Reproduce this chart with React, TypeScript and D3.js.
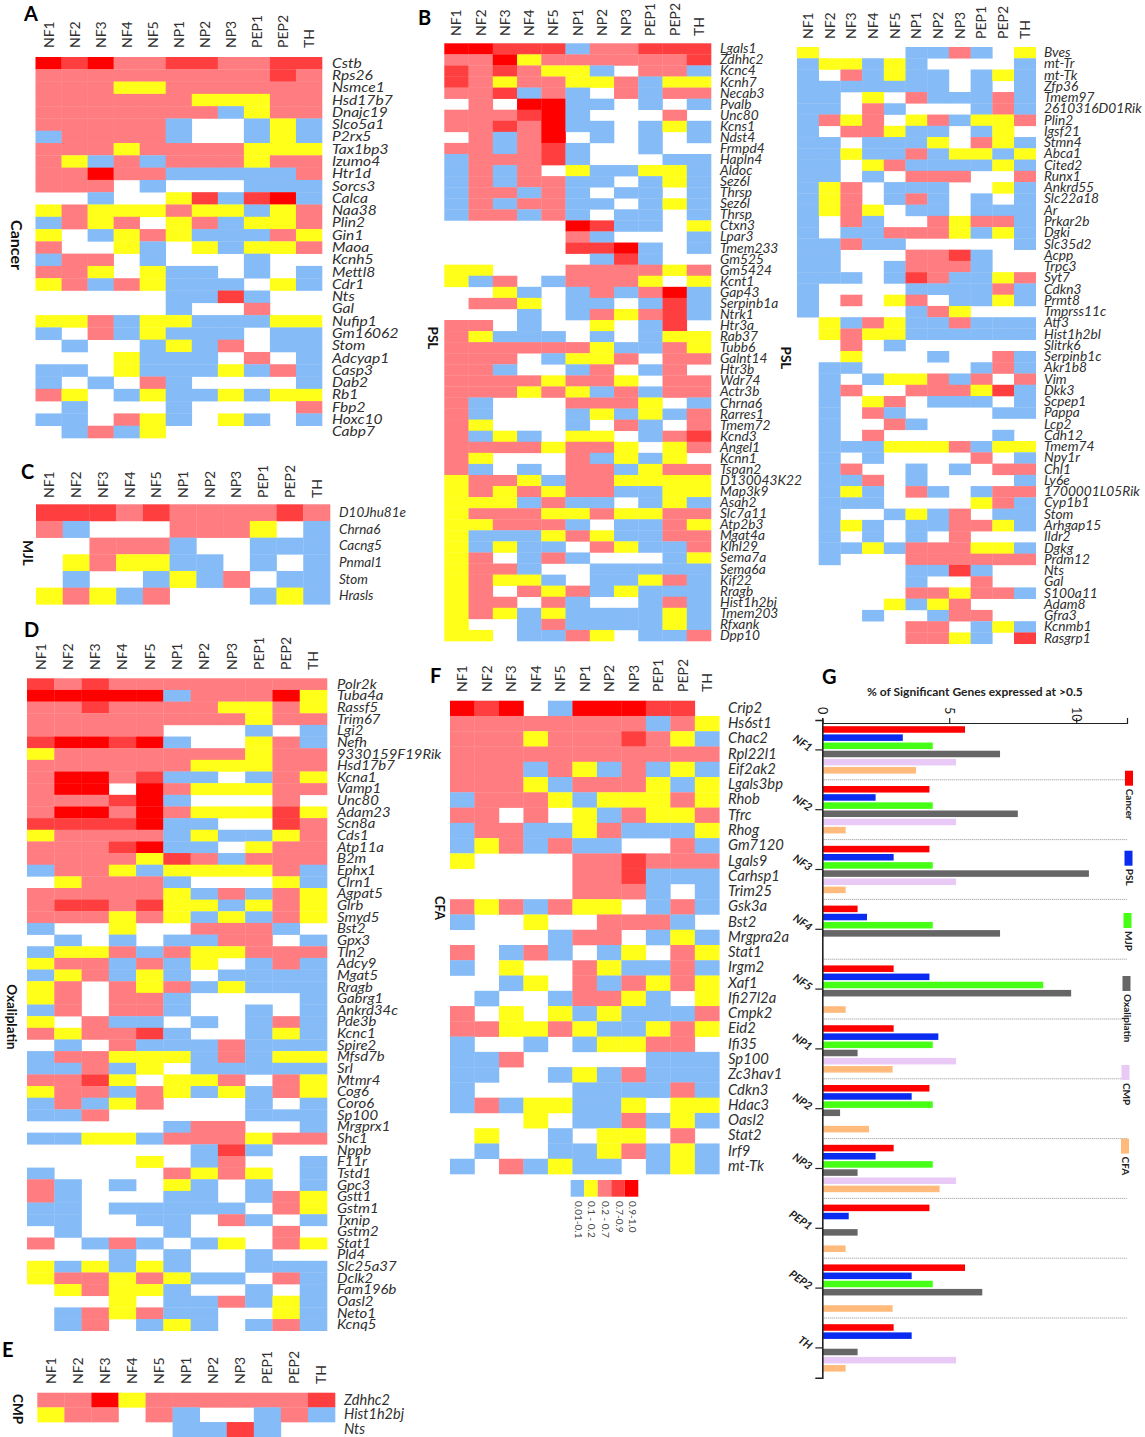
import React, { useEffect, useRef } from 'react';
import * as d3 from 'd3';

const neurons = ['NF1', 'NF2', 'NF3', 'NF4', 'NF5', 'NP1', 'NP2', 'NP3', 'PEP1', 'PEP2', 'TH'];

// level codes: . none, b 0.01-0.1, y 0.1-0.2, p 0.2-0.7, r 0.7-0.9, R 0.9-1.0
const levelCodes = ['b', 'y', 'p', 'r', 'R'];
const levelLabels = ['0.01-0.1', '0.1 - 0.2', '0.2 - 0.7', '0.7-0.9', '0.9-1.0'];
const levelColors = ['#85bbf6', '#ffff1a', '#ff7d80', '#ff3f3f', '#ff0000'];

const cancerGenes = ['Cstb', 'Rps26', 'Nsmce1', 'Hsd17b7', 'Dnajc19', 'Slco5a1', 'P2rx5', 'Tax1bp3', 'Izumo4', 'Htr1d', 'Sorcs3', 'Calca', 'Naa38', 'Plin2', 'Gin1', 'Maoa', 'Kcnh5', 'Mettl8', 'Cdr1', 'Nts', 'Gal', 'Nufip1', 'Gm16062', 'Stom', 'Adcyap1', 'Casp3', 'Dab2', 'Rb1', 'Fbp2', 'Hoxc10', 'Cabp7'];
const cancerLevels = [
    'R r R p p r r p p r r',
    'p p p p p p p p p r p',
    'p p p y y p p p p p p',
    'p p p p p p y y y p p',
    'p p p p p p p b y p p',
    'p p p p p b . . b y b',
    'b p p p p b . . b y b',
    'p p p y p p p p y y y',
    'p y b p b p p p y p p',
    'p p R p p b b b b b p',
    'p p p . b . . . b b b',
    '. . b . . y r b r R b',
    'y p y y y p y y b y p',
    'b p y p . y p b y y p',
    'y . b y p y b b b p y',
    'p . . y b . y b y y p',
    'b p p . b . . . b . .',
    'p p y . y b b . b . b',
    'y p b p y b b b . y b',
    '. . . . . b b r b . .',
    '. . . . . b . . p . .',
    'y y p b y y b b b y y',
    'b . p b y b b b . b b',
    '. b . . b y b p . b b',
    '. . . y b b b . p . b',
    'b b . y b b b y b p b',
    'b . b . p b . . . . b',
    'p y . b y b b y b y y',
    '. b . . . b . . . . p',
    'b b . p y b . y b . b',
    '. b p b y . . . . . .'
];

const pslGenesA = ['Lgals1', 'Zdhhc2', 'Kcnc4', 'Kcnh7', 'Necab3', 'Pvalb', 'Unc80', 'Kcns1', 'Ndst4', 'Frmpd4', 'Hapln4', 'Aldoc', 'Sez6l', 'Thrsp', 'Sez6l', 'Thrsp', 'Ctxn3', 'Lpar3', 'Tmem233', 'Gm525', 'Gm5424', 'Kcnt1', 'Gap43', 'Serpinb1a', 'Ntrk1', 'Htr3a', 'Rab37', 'Tubb6', 'Galnt14', 'Htr3b', 'Wdr74', 'Actr3b', 'Chrna6', 'Rarres1', 'Tmem72', 'Kcnd3', 'Angel1', 'Kcnn1', 'Tspan2', 'D130043K22', 'Map3k9', 'Asah2', 'Slc7a11', 'Atp2b3', 'Mgat4a', 'Klhl29', 'Sema7a', 'Sema6a', 'Kif22', 'Rragb', 'Hist1h2bj', 'Tmem203', 'Rfxank', 'Dpp10'];
const pslLevelsA = [
    'R R r r r b p p r r r',
    'p p R y p p p p p p r',
    'r p r p y y b . p p b',
    'r p y p p y y p b y y',
    'p p r b p b . p b p p',
    '. p . R R b b . b . b',
    'p p p r R b . . . p .',
    'p p r p R b b . b y b',
    '. p b p R . b . b . b',
    'p p b p r b . . b . .',
    'b p p p r b . . . b b',
    'b p b p . y b b y y b',
    'b p b p p b b . b y b',
    'b p p b p b . b b . b',
    'b p b p p b b . b y b',
    'b p p b p b . b b . b',
    '. . . . . R r b b . y',
    '. . . . . p b . . . b',
    '. . . . . r r R b . b',
    '. . . . . . b r b . .',
    'y y . . . p p p p y p',
    'y b p . b p p p y . y',
    '. . y b . b p b p R b',
    '. p p y . b b . b r b',
    '. . . b . b p y p r b',
    'p p . b . . y . b r .',
    'p y b b b . b . b y y',
    'p p p p p p y b b p y',
    'p p p . b y y p . p p',
    'p p b . . b p . b p .',
    'p p p p y p p y . p p',
    'p p p y p y b p b p p',
    'p b . . . p p p y . b',
    'p b . . . b y b y b p',
    'p y . . . b . p b . p',
    'p b y b . y y . b p r',
    'p p p p y p p y . y p',
    'p y . . . p b y b y .',
    'p b . b . p p b y p p',
    'y p p y b p p y y y y',
    'y p y p y p p b b y y',
    'y y y b p b b . b y b',
    'y p p p y y p y y p p',
    'y y p p p b . b b p y',
    'y b b b y p y b b p p',
    'y b y b b . p y b b p',
    'y p . b p b . . . b y',
    'y p p b . . b b b b b',
    'y p y y b . b b y p b',
    'y p . p y p b y b b b',
    'y p p . p b . . b p b',
    'y p y b y b b b b y b',
    'y . . b p b b b b y b',
    'y y . b b p y . b b p'
];

const pslGenesB = ['Bves', 'mt-Tr', 'mt-Tk', 'Zfp36', 'Tmem97', '2610316D01Rik', 'Plin2', 'Igsf21', 'Stmn4', 'Abca1', 'Cited2', 'Runx1', 'Ankrd55', 'Slc22a18', 'Ar', 'Prkar2b', 'Dgki', 'Slc35d2', 'Acpp', 'Trpc3', 'Syt7', 'Cdkn3', 'Prmt8', 'Tmprss11c', 'Atf3', 'Hist1h2bl', 'Slitrk6', 'Serpinb1c', 'Akr1b8', 'Vim', 'Dkk3', 'Scpep1', 'Pappa', 'Lcp2', 'Cdh12', 'Tmem74', 'Npy1r', 'Chl1', 'Ly6e', '1700001L05Rik', 'Cyp1b1', 'Stom', 'Arhgap15', 'Ildr2', 'Dgkg', 'Prdm12', 'Nts', 'Gal', 'S100a11', 'Adam8', 'Gfra3', 'Kcnmb1', 'Rasgrp1'];
const pslLevelsB = [
    'y . . . . b b p b . y',
    'b y y b y b . . . . b',
    'b . p b y b b . b y b',
    'b b b b b b b . b . b',
    'b b . y . p b b b p b',
    'b b . p b . . . b p b',
    'b p y p . y p b y y p',
    'b . p p y b b . b y .',
    'b b . b b b y . p y b',
    'b b y b b p b y y b y',
    'b b . y p b b b b y b',
    'b b . b . p p p . . p',
    'b y p . b b b . . y b',
    'b y p . b p b . b . b',
    'b y p y . b b . b b b',
    'b . p b . . p y p p b',
    'b . b b p p p y b y b',
    'b b p b b . . . . . b',
    'b b . . . p p r b . .',
    'b b . . b p p p b . .',
    'b b b . b r p b b y p',
    'b . . . . b b b b p b',
    'b . p . y p . b b y b',
    'b . . . . b p y . . .',
    '. y b p y b b p b b b',
    '. y p y y b b b b b b',
    '. . p . b . . . . . .',
    '. . y . . . b . . p b',
    '. b b . . . . . b p b',
    '. b . b y y p b p . p',
    '. b p . . p p p y r b',
    '. b . y p . b b b . b',
    '. b . p b . . . . b b',
    '. b . . p b . . . . .',
    '. b . p . . . . . b .',
    '. b b b y y y p b y y',
    '. b . b . . . . p . b',
    '. b p . . b . b . p p',
    '. b b p . b . . . . b',
    '. b y b . p b . b p p',
    '. b b b . . . . y p b',
    '. b . . b y b p . b b',
    '. b y b . b b p p y b',
    '. b . b . b . p . . .',
    '. b b y b p p p y y b',
    '. b . . . p p p p p p',
    '. . . . . b b r b . .',
    '. . . . . b . . p . .',
    '. . . . . p p y p p b',
    '. . . . y b y p . . .',
    '. . . b . . b p p . .',
    '. . . . . p p . b y b',
    '. . . . . p p y b . r'
];

const mjlGenes = ['D10Jhu81e', 'Chrna6', 'Cacng5', 'Pnmal1', 'Stom', 'Hrasls'];
const mjlLevels = [
    'r r r p r p p p p r p',
    'p b . . . p p p y . b',
    '. . p p p b . . b b b',
    '. y p y y b b . b . b',
    '. b . . b y b p . b b',
    'y p y b p . . . b y b'
];

const oxaliplatinGenes = ['Polr2k', 'Tuba4a', 'Rassf5', 'Trim67', 'Lgi2', 'Nefh', '9330159F19Rik', 'Hsd17b7', 'Kcna1', 'Vamp1', 'Unc80', 'Adam23', 'Scn8a', 'Cds1', 'Atp11a', 'B2m', 'Ephx1', 'Clrn1', 'Agpat5', 'Glrb', 'Smyd5', 'Bst2', 'Gpx3', 'Tln2', 'Adcy9', 'Mgat5', 'Rragb', 'Gabrg1', 'Ankrd34c', 'Pde3b', 'Kcnc1', 'Spire2', 'Mfsd7b', 'Srl', 'Mtmr4', 'Cog6', 'Coro6', 'Sp100', 'Mrgprx1', 'Shc1', 'Nppb', 'F11r', 'Tstd1', 'Gpc3', 'Gstt1', 'Gstm1', 'Txnip', 'Gstm2', 'Stat1', 'Pld4', 'Slc25a37', 'Dclk2', 'Fam196b', 'Oasl2', 'Neto1', 'Kcnq5'];
const oxaliplatinLevels = [
    'r p r p p p p p p p p',
    'R R R R R b p p p R y',
    'p p r p p p p y y p y',
    'p p p p p p p p y p p',
    'p p p p p . . . b . b',
    'r R R r R b . . y p b',
    'y p p p p p p p y p p',
    'p p p p p p y y y p p',
    'p R R p r b b . b p y',
    'p R R . R p y y y p p',
    'p p p r R b . . . p .',
    'p R R p R p y y y r y',
    'r r r r R b b . . r p',
    'y p p p p b y b b y p',
    'p p p r R b b . y p p',
    'p p p p y r p b p p p',
    'b p p y b y y y y p b',
    '. y p p p b . . . y b',
    'p p p p p y b p b p y',
    'p r r p r y y b y p y',
    'p p p y p y b y b p y',
    'b . . y . . p p p b .',
    '. b . b . b b p p . b',
    'b y y p b p y y p p p',
    'y p p b p b y . b p b',
    'b y p b y b . b b b b',
    'y p . p y p b y b b b',
    'y p . p p b . . . . b',
    'b p . p p b . . b . b',
    'y . p b b . b . b p b',
    'p y p p r b . . b y b',
    '. b . p b b b p b b b',
    'b p p y y y b p b y y',
    'b b p b y . b b b b b',
    'p p r y . y y p . p y',
    'y p p b p y b y b p y',
    'b p b y p . . . b . b',
    'b b p . . . . . b b b',
    '. . . . . b p p . . b',
    'b b y y b p p p y p p',
    '. . . . . . b r b . .',
    '. . . . y . b p . . b',
    'b . . . . p y p y . b',
    'p b . b . y b . b . b',
    'p b . . . b b . b p y',
    'b b . b b b b b . p y',
    'b b . . b b . p b . b',
    '. b . . . b . . . p .',
    'p . b p b . b y . p y',
    '. . . b . b . . b . .',
    'y b y b y b . . b b b',
    'y p p y p y b b . p b',
    '. y p y y b . . b . b',
    '. . . y . b b p b y b',
    '. b p y p b b . . y b',
    '. b p . b y b . b p b'
];

const cmpGenes = ['Zdhhc2', 'Hist1h2bj', 'Nts'];
const cmpLevels = [
    'p p R y p p p p p p r',
    'y p p . p b . . b p b',
    '. . . . . b b r b . .'
];

const cfaGenes = ['Crip2', 'Hs6st1', 'Chac2', 'Rpl22l1', 'Eif2ak2', 'Lgals3bp', 'Rhob', 'Tfrc', 'Rhog', 'Gm7120', 'Lgals9', 'Carhsp1', 'Trim25', 'Gsk3a', 'Bst2', 'Mrgpra2a', 'Stat1', 'Irgm2', 'Xaf1', 'Ifi27l2a', 'Cmpk2', 'Eid2', 'Ifi35', 'Sp100', 'Zc3hav1', 'Cdkn3', 'Hdac3', 'Oasl2', 'Stat2', 'Irf9', 'mt-Tk'];
const cfaLevels = [
    'R r R . b R R R r r .',
    'p p p p p p p p b p y',
    'p p p y p p p r p y b',
    'p p p p p p p p p p p',
    'p p p b p y b p b y b',
    'p p p y b p p p y b y',
    'b p p p y b y y y p y',
    'p p . p . y b p y y p',
    'b p p b b y p b b b y',
    'b y p b p b b . . p b',
    'y . . . . p p r p p p',
    '. . . . . p p r b b b',
    '. . . . . p p p b . b',
    'p y p b p y y . b p b',
    'b . . y . . p p p b .',
    '. . . . b p p . b y b',
    'p . b p b . b y . p y',
    'b . y . . p y b b p b',
    '. . b y . p b p y p y',
    '. b . . b p p y b . y',
    'p . y . y b y b b b p',
    'p p y y p y b b y p y',
    'b . . b . b y y p p .',
    'b b p . . . . . b b b',
    'b b . . b y b p b b b',
    'b . . . . b b b b p b',
    'b p b y y b b y . y y',
    '. . . y . b b p b y b',
    '. y . . b . y y . p .',
    '. b . . b b y p b y b',
    'b . p b y b b . b y b'
];

// % of significant genes expressed at >0.5
const modelNames = ['Cancer', 'PSL', 'MJP', 'Oxaliplatin', 'CMP', 'CFA'];
const modelColors = ['#ff0000', '#0a2cf0', '#45ff14', '#666666', '#e9c9f5', '#ffba7c'];
const cancerPct = [5.62, 4.22, 4.22, 1.39, 2.81, 2.81, 4.22, 2.81, 4.22, 5.62, 2.81];
const pslPct = [3.17, 2.1, 2.81, 1.76, 4.22, 4.57, 3.52, 2.1, 1.04, 3.52, 3.52];
const mjpPct = [4.35, 4.35, 4.35, 4.35, 8.7, 4.35, 4.35, 4.35, 0, 4.35, 0];
const oxaliplatinPct = [7.0, 7.7, 10.5, 7.0, 9.8, 1.39, 0.7, 1.39, 1.39, 6.3, 1.39];
const cmpPct = [5.27, 5.27, 5.27, 0, 0, 5.27, 0, 5.27, 0, 0, 5.27];
const cfaPct = [3.69, 0.92, 0.92, 0, 0.92, 2.77, 1.84, 4.62, 0.92, 2.77, 0.92];

type Panel = {
    letter: string; letterX: number; letterY: number;
    side: string; sideX: number; sideY: number; sideSize: number;
    genes: string[]; levels: string[];
    x0: number; x1: number; y0: number; y1: number;
    headerY: number; geneX: number; geneSize: number; geneStretch: number;
};

const panels: Panel[] = [
    { letter: 'A', letterX: 24, letterY: 21, side: 'Cancer', sideX: 17, sideY: 245, sideSize: 16, genes: cancerGenes, levels: cancerLevels, x0: 35.5, x1: 322, y0: 57, y1: 438, headerY: 48, geneX: 332, geneSize: 13, geneStretch: 1.2 },
    { letter: 'B', letterX: 418, letterY: 25, side: 'PSL', sideX: 433, sideY: 338, sideSize: 13.5, genes: pslGenesA, levels: pslLevelsA, x0: 444.3, x1: 711, y0: 43.3, y1: 641, headerY: 36, geneX: 720, geneSize: 12.5, geneStretch: 1.1 },
    { letter: '', letterX: 0, letterY: 0, side: 'PSL', sideX: 786, sideY: 358, sideSize: 13.5, genes: pslGenesB, levels: pslLevelsB, x0: 797, x1: 1035.7, y0: 47, y1: 643.7, headerY: 39, geneX: 1044, geneSize: 12.5, geneStretch: 1.1 },
    { letter: 'C', letterX: 21, letterY: 479, side: 'MJL', sideX: 28, sideY: 553, sideSize: 13.5, genes: mjlGenes, levels: mjlLevels, x0: 36, x1: 330, y0: 504.3, y1: 604.3, headerY: 498, geneX: 339, geneSize: 13.5, geneStretch: 1 },
    { letter: 'D', letterX: 24, letterY: 637, side: 'Oxaliplatin', sideX: 12, sideY: 1017, sideSize: 13.5, genes: oxaliplatinGenes, levels: oxaliplatinLevels, x0: 27, x1: 327, y0: 678.3, y1: 1330.7, headerY: 670, geneX: 337, geneSize: 12.6, geneStretch: 1.18 },
    { letter: 'E', letterX: 2, letterY: 1357, side: 'CMP', sideX: 18, sideY: 1409, sideSize: 13.5, genes: cmpGenes, levels: cmpLevels, x0: 37.3, x1: 335, y0: 1392.7, y1: 1436.7, headerY: 1384, geneX: 344, geneSize: 14.5, geneStretch: 1 },
    { letter: 'F', letterX: 430, letterY: 683, side: 'CFA', sideX: 440, sideY: 908, sideSize: 13, genes: cfaGenes, levels: cfaLevels, x0: 450, x1: 719.3, y0: 700.7, y1: 1174, headerY: 692, geneX: 728, geneSize: 14.8, geneStretch: 1 }
];

const legendBoxes = [
    { rx: 1125, ry: 770.7 }, { rx: 1124.5, ry: 850.7 }, { rx: 1123.5, ry: 913 },
    { rx: 1122.5, ry: 976 }, { rx: 1121.5, ry: 1065 }, { rx: 1121, ry: 1138.6 }
];

const labelFont = 'Lato, "Open Sans", sans-serif';
const textColor = '#2f2f2f';

function drawHeatmap(svg: d3.Selection<SVGSVGElement, unknown, null, undefined>, panel: Panel) {
    const color = d3.scaleOrdinal<string, string>().domain(levelCodes).range(levelColors);
    const x = d3.scaleBand<string>().domain(neurons).range([panel.x0, panel.x1]);
    const y = d3.scaleBand<number>().domain(d3.range(panel.genes.length)).range([panel.y0, panel.y1]);
    const g = svg.append('g');

    panel.levels.forEach((row, i) => {
        const codes = row.split(' ');
        g.append('g').selectAll('rect')
            .data(neurons.map((name, j) => ({ name, code: codes[j] })).filter((d) => d.code !== '.'))
            .join('rect')
            .attr('x', (d) => x(d.name) as number)
            .attr('y', y(i) as number)
            .attr('width', x.bandwidth() + 0.3)
            .attr('height', y.bandwidth() + 0.3)
            .attr('fill', (d) => color(d.code));
    });

    // column headers
    g.append('g').selectAll('text').data(neurons).join('text')
        .attr('transform', (d) => `translate(${(x(d) as number) + x.bandwidth() / 2 + 5}, ${panel.headerY}) rotate(-90)`)
        .attr('font-family', labelFont)
        .attr('font-size', 14)
        .attr('fill', textColor)
        .text((d) => d);

    // gene names, the source figure has them slightly stretched sideways
    g.append('g').selectAll('text').data(panel.genes).join('text')
        .attr('transform', (_, i) => `translate(${panel.geneX}, ${(y(i) as number) + y.bandwidth() / 2 + 4.5}) scale(${panel.geneStretch}, 1)`)
        .attr('font-family', labelFont)
        .attr('font-style', 'italic')
        .attr('font-size', panel.geneSize)
        .attr('fill', textColor)
        .text((d) => d);

    g.append('text')
        .attr('transform', `translate(${panel.sideX}, ${panel.sideY}) rotate(90)`)
        .attr('text-anchor', 'middle')
        .attr('dy', '0.35em')
        .attr('font-family', labelFont)
        .attr('font-weight', 700)
        .attr('font-size', panel.sideSize)
        .attr('fill', '#111')
        .text(panel.side);

    if (panel.letter) {
        g.append('text')
            .attr('x', panel.letterX)
            .attr('y', panel.letterY)
            .attr('font-family', labelFont)
            .attr('font-weight', 700)
            .attr('font-size', 20)
            .attr('fill', '#000')
            .text(panel.letter);
    }
}

function drawScaleKey(svg: d3.Selection<SVGSVGElement, unknown, null, undefined>) {
    const x = d3.scaleBand<string>().domain(levelLabels).range([570.7, 638.3]);
    const g = svg.append('g');
    g.selectAll('rect').data(levelLabels).join('rect')
        .attr('x', (d) => x(d) as number)
        .attr('y', 1180)
        .attr('width', x.bandwidth())
        .attr('height', 16.7)
        .attr('fill', (_, i) => levelColors[i]);
    g.selectAll('text').data(levelLabels).join('text')
        .attr('transform', (d) => `translate(${(x(d) as number) + x.bandwidth() / 2 - 2.5}, 1201) rotate(90)`)
        .attr('font-family', labelFont)
        .attr('font-size', 10)
        .attr('fill', '#444')
        .text((d) => d);
}

function drawBars(svg: d3.Selection<SVGSVGElement, unknown, null, undefined>) {
    const series = [cancerPct, pslPct, mjpPct, oxaliplatinPct, cmpPct, cfaPct];
    const x = d3.scaleLinear().domain([0, 12]).range([822.3, 1127]);
    const y = d3.scaleBand<string>().domain(neurons).range([720, 720 + 11 * 59.8]);
    const inner = d3.scaleBand<string>().domain(modelNames).range([5.4, 54.4]).paddingInner(0.2).paddingOuter(0.1);
    const g = svg.append('g');

    g.append('text')
        .attr('x', 822)
        .attr('y', 684)
        .attr('font-family', labelFont)
        .attr('font-weight', 700)
        .attr('font-size', 20)
        .attr('fill', '#000')
        .text('G');
    g.append('text')
        .attr('x', 867)
        .attr('y', 696)
        .attr('font-family', labelFont)
        .attr('font-weight', 700)
        .attr('font-size', 12)
        .attr('fill', '#222')
        .text('% of Significant Genes expressed at >0.5');

    // dotted separators between cell types
    g.append('g').selectAll('line').data(neurons.slice(0, -1)).join('line')
        .attr('x1', x(0))
        .attr('x2', x(12))
        .attr('y1', (d) => (y(d) as number) + y.bandwidth())
        .attr('y2', (d) => (y(d) as number) + y.bandwidth())
        .attr('stroke', '#777')
        .attr('stroke-width', 0.8)
        .attr('stroke-dasharray', '1,1');

    modelNames.forEach((name, m) => {
        g.append('g').selectAll('rect').data(series[m].map((v, i) => ({ v, n: neurons[i] })).filter((d) => d.v > 0)).join('rect')
            .attr('x', x(0))
            .attr('y', (d) => (y(d.n) as number) + (inner(name) as number))
            .attr('width', (d) => x(d.v) - x(0))
            .attr('height', inner.bandwidth())
            .attr('fill', modelColors[m]);
    });

    const top = g.append('g')
        .attr('transform', 'translate(0, 723)')
        .call(d3.axisTop(x).tickValues([0, 5, 10]).tickSize(5).tickFormat(d3.format('d')));
    top.select('.domain').attr('stroke', '#222').attr('stroke-width', 1.2);
    top.selectAll('.tick text')
        .attr('transform', 'rotate(90)')
        .attr('x', -16)
        .attr('y', 0)
        .attr('dy', '0.35em')
        .attr('text-anchor', 'start')
        .attr('font-family', labelFont)
        .attr('font-size', 12.5)
        .attr('fill', '#222');

    const left = g.append('g')
        .attr('transform', `translate(${x(0)}, 0)`)
        .call(d3.axisLeft(y).tickSize(7));
    left.select('.domain').attr('stroke', '#222').attr('stroke-width', 1.6);
    left.selectAll('.tick line').attr('stroke', '#222').attr('stroke-width', 1.2);
    left.selectAll('.tick text')
        .attr('transform', 'translate(-13.5, 2) rotate(35)')
        .attr('x', 0)
        .attr('y', 0)
        .attr('dy', 0)
        .attr('text-anchor', 'end')
        .attr('font-family', labelFont)
        .attr('font-style', 'italic')
        .attr('font-weight', 700)
        .attr('font-size', 11)
        .attr('fill', '#222');

    // legend down the right edge
    modelNames.forEach((name, m) => {
        const box = legendBoxes[m];
        g.append('rect')
            .attr('x', box.rx)
            .attr('y', box.ry)
            .attr('width', 8)
            .attr('height', 15)
            .attr('fill', modelColors[m]);
        g.append('text')
            .attr('transform', `translate(${box.rx + 1}, ${box.ry + 18}) rotate(90)`)
            .attr('font-family', labelFont)
            .attr('font-weight', 700)
            .attr('font-size', 10)
            .attr('fill', '#222')
            .text(name);
    });
}

export default function App() {
    const ref = useRef<SVGSVGElement>(null);

    useEffect(() => {
        if (!ref.current) return;
        const svg = d3.select(ref.current);
        svg.selectAll('*').remove();
        panels.forEach((p) => drawHeatmap(svg, p));
        drawScaleKey(svg);
        drawBars(svg);
    }, []);

    return <svg ref={ref} width={1145} height={1437} style={{ position: 'absolute', left: 0, top: 0, background: '#fff' }} />;
}
